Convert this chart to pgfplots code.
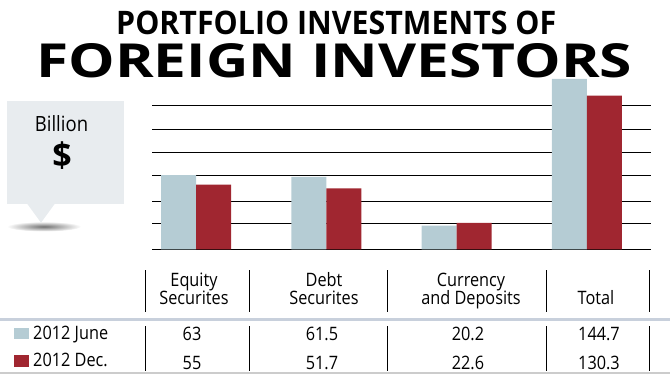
\documentclass[border=0pt]{standalone}
\usepackage{pgfplots}
\pgfplotsset{compat=1.18}
\usepackage{fontspec}
\setmainfont{Open Sans}
\usepackage{graphicx}
\definecolor{june}{RGB}{181,204,212}
\definecolor{dec}{RGB}{160,38,48}
\definecolor{bubble}{RGB}{232,236,239}
\definecolor{band}{RGB}{200,208,220}
\newcommand\tx[1]{\scalebox{0.88}[1]{#1}}
\newcommand\fs{\fontsize{18.5}{20}\selectfont}
\begin{document}
\begin{tikzpicture}[x=1pt,y=1pt]
\useasboundingbox (0,0) rectangle (670,375);
% title
\node[anchor=south west,inner sep=0pt] at (116,339.5) {\resizebox{440pt}{23.5pt}{\bfseries PORTFOLIO INVESTMENTS OF}};
\node[anchor=south west,inner sep=0pt] at (36,297) {\resizebox{596pt}{34pt}{\bfseries FOREIGN INVESTORS}};
% bubble
\shade[inner color=black!55, outer color=white] (44,148.5) ellipse [x radius=37pt, y radius=5pt];
\fill[bubble] (7,171) rectangle (124,274);
\fill[bubble] (27,171.5) -- (55,171.5) -- (41,152.3) -- cycle;
\node[anchor=base] at (61.5,243.3) {\fontsize{21}{24}\selectfont\tx{Billion}};
\node[anchor=base] at (62,207) {\fontsize{34}{36}\selectfont\bfseries \$};
% chart
\begin{axis}[at={(152pt,125.5pt)}, anchor=south west, scale only axis,
  width=498.7pt, height=171.1pt,
  xmin=-0.338, xmax=3.49, ymin=0, ymax=145,
  ybar=0pt, bar width=35pt,
  axis line style={draw=none}, major tick length=0pt,
  xtick=\empty, ytick={0,22.2,40.7,62.9,82.4,101.9,122.2}, yticklabels={},
  ymajorgrids, grid style={black, line width=0.9pt},
  clip=false]
\addplot[fill=june,draw=none] coordinates {(0,63) (1,61.5) (2,20.2) (3,144.7)};
\addplot[fill=dec,draw=none] coordinates {(0,55) (1,51.7) (2,22.6) (3,130.3)};
\end{axis}
% table
\fill[band] (0,53.5) rectangle (670,57);
\draw[black!20, line width=1.2pt] (0,2) -- (670,2);
\foreach \x in {145,249,387,546,649} {
  \draw[black, line width=0.9pt] (\x,63) -- (\x,105);
  \draw[black, line width=0.9pt] (\x,4) -- (\x,49);
}
\node[anchor=base,inner sep=0pt] at (194,88) {\fs\tx{Equity}};
\node[anchor=base,inner sep=0pt] at (194,70) {\fs\tx{Securites}};
\node[anchor=base,inner sep=0pt] at (324,88) {\fs\tx{Debt}};
\node[anchor=base,inner sep=0pt] at (324,70) {\fs\tx{Securites}};
\node[anchor=base,inner sep=0pt] at (471,88) {\fs\tx{Currency}};
\node[anchor=base,inner sep=0pt] at (471,70) {\fs\tx{and Deposits}};
\node[anchor=base,inner sep=0pt] at (596,70) {\fs\tx{Total}};
\node[anchor=base,inner sep=0pt] at (192,34) {\fs\tx{63}};
\node[anchor=base,inner sep=0pt] at (192,5.5) {\fs\tx{55}};
\node[anchor=base,inner sep=0pt] at (322,34) {\fs\tx{61.5}};
\node[anchor=base,inner sep=0pt] at (322,5.5) {\fs\tx{51.7}};
\node[anchor=base,inner sep=0pt] at (468,34) {\fs\tx{20.2}};
\node[anchor=base,inner sep=0pt] at (468,5.5) {\fs\tx{22.6}};
\node[anchor=base,inner sep=0pt] at (599,34) {\fs\tx{144.7}};
\node[anchor=base,inner sep=0pt] at (599,5.5) {\fs\tx{130.3}};
\fill[june] (13.5,35.7) rectangle (28.5,47);
\fill[dec] (13.5,8.3) rectangle (28.5,19.6);
\node[anchor=base west,inner sep=0pt] at (33,35.7) {\fs\tx{2012 June}};
\node[anchor=base west,inner sep=0pt] at (33,8.3) {\fs\tx{2012 Dec.}};
\end{tikzpicture}
\end{document}
